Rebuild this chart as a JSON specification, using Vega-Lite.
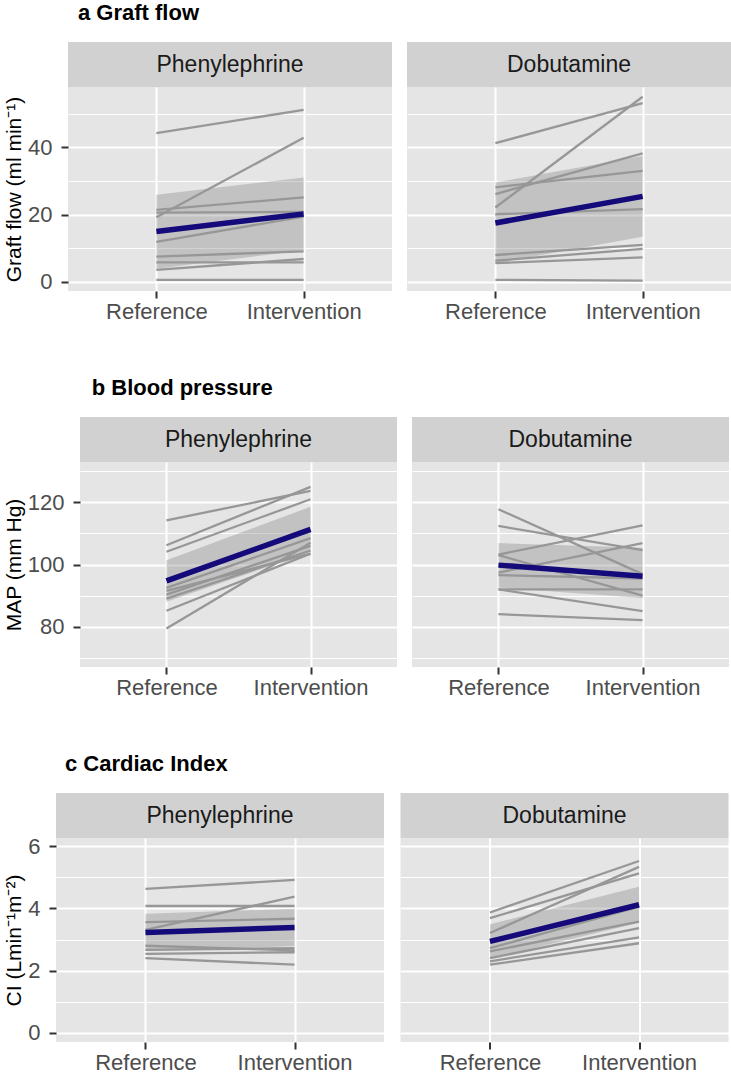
{
  "$schema": "https://vega.github.io/schema/vega-lite/v6.json",
  "background": "#FFFFFF",
  "padding": {"left": 2, "top": 2, "right": 0, "bottom": 0},
  "spacing": 55,
  "datasets": {
    "a_lines": [
      {"drug": "Phenylephrine", "id": 1, "time": "Reference", "value": 44.2}, {"drug": "Phenylephrine", "id": 1, "time": "Intervention", "value": 51.1},
      {"drug": "Phenylephrine", "id": 2, "time": "Reference", "value": 19.2}, {"drug": "Phenylephrine", "id": 2, "time": "Intervention", "value": 42.8},
      {"drug": "Phenylephrine", "id": 3, "time": "Reference", "value": 21.4}, {"drug": "Phenylephrine", "id": 3, "time": "Intervention", "value": 25.1},
      {"drug": "Phenylephrine", "id": 4, "time": "Reference", "value": 20.6}, {"drug": "Phenylephrine", "id": 4, "time": "Intervention", "value": 20.8},
      {"drug": "Phenylephrine", "id": 5, "time": "Reference", "value": 11.9}, {"drug": "Phenylephrine", "id": 5, "time": "Intervention", "value": 19.4},
      {"drug": "Phenylephrine", "id": 6, "time": "Reference", "value": 7.5}, {"drug": "Phenylephrine", "id": 6, "time": "Intervention", "value": 9.1},
      {"drug": "Phenylephrine", "id": 7, "time": "Reference", "value": 5.8}, {"drug": "Phenylephrine", "id": 7, "time": "Intervention", "value": 5.8},
      {"drug": "Phenylephrine", "id": 8, "time": "Reference", "value": 3.6}, {"drug": "Phenylephrine", "id": 8, "time": "Intervention", "value": 6.8},
      {"drug": "Phenylephrine", "id": 9, "time": "Reference", "value": 0.6}, {"drug": "Phenylephrine", "id": 9, "time": "Intervention", "value": 0.6},
      {"drug": "Dobutamine", "id": 1, "time": "Reference", "value": 41.2}, {"drug": "Dobutamine", "id": 1, "time": "Intervention", "value": 53.1},
      {"drug": "Dobutamine", "id": 2, "time": "Reference", "value": 22.1}, {"drug": "Dobutamine", "id": 2, "time": "Intervention", "value": 55.0},
      {"drug": "Dobutamine", "id": 3, "time": "Reference", "value": 26.1}, {"drug": "Dobutamine", "id": 3, "time": "Intervention", "value": 38.2},
      {"drug": "Dobutamine", "id": 4, "time": "Reference", "value": 28.1}, {"drug": "Dobutamine", "id": 4, "time": "Intervention", "value": 33.0},
      {"drug": "Dobutamine", "id": 5, "time": "Reference", "value": 20.1}, {"drug": "Dobutamine", "id": 5, "time": "Intervention", "value": 21.6},
      {"drug": "Dobutamine", "id": 6, "time": "Reference", "value": 8.0}, {"drug": "Dobutamine", "id": 6, "time": "Intervention", "value": 11.0},
      {"drug": "Dobutamine", "id": 7, "time": "Reference", "value": 6.3}, {"drug": "Dobutamine", "id": 7, "time": "Intervention", "value": 9.8},
      {"drug": "Dobutamine", "id": 8, "time": "Reference", "value": 5.6}, {"drug": "Dobutamine", "id": 8, "time": "Intervention", "value": 7.3},
      {"drug": "Dobutamine", "id": 9, "time": "Reference", "value": 0.6}, {"drug": "Dobutamine", "id": 9, "time": "Intervention", "value": 0.4}
    ],
    "a_sum": [
      {"drug": "Phenylephrine", "time": "Reference", "mean": 15.0, "lo": 3.9, "hi": 25.9},
      {"drug": "Phenylephrine", "time": "Intervention", "mean": 20.2, "lo": 9.4, "hi": 31.0},
      {"drug": "Dobutamine", "time": "Reference", "mean": 17.5, "lo": 5.5, "hi": 29.5},
      {"drug": "Dobutamine", "time": "Intervention", "mean": 25.4, "lo": 13.4, "hi": 37.4}
    ],
    "b_lines": [
      {"drug": "Phenylephrine", "id": 1, "time": "Reference", "value": 114.2}, {"drug": "Phenylephrine", "id": 1, "time": "Intervention", "value": 123.7},
      {"drug": "Phenylephrine", "id": 2, "time": "Reference", "value": 106.2}, {"drug": "Phenylephrine", "id": 2, "time": "Intervention", "value": 125.0},
      {"drug": "Phenylephrine", "id": 3, "time": "Reference", "value": 104.1}, {"drug": "Phenylephrine", "id": 3, "time": "Intervention", "value": 121.0},
      {"drug": "Phenylephrine", "id": 4, "time": "Reference", "value": 92.5}, {"drug": "Phenylephrine", "id": 4, "time": "Intervention", "value": 108.5},
      {"drug": "Phenylephrine", "id": 5, "time": "Reference", "value": 91.5}, {"drug": "Phenylephrine", "id": 5, "time": "Intervention", "value": 103.5},
      {"drug": "Phenylephrine", "id": 6, "time": "Reference", "value": 90.3}, {"drug": "Phenylephrine", "id": 6, "time": "Intervention", "value": 106.0},
      {"drug": "Phenylephrine", "id": 7, "time": "Reference", "value": 89.0}, {"drug": "Phenylephrine", "id": 7, "time": "Intervention", "value": 104.5},
      {"drug": "Phenylephrine", "id": 8, "time": "Reference", "value": 85.1}, {"drug": "Phenylephrine", "id": 8, "time": "Intervention", "value": 103.5},
      {"drug": "Phenylephrine", "id": 9, "time": "Reference", "value": 79.4}, {"drug": "Phenylephrine", "id": 9, "time": "Intervention", "value": 107.0},
      {"drug": "Dobutamine", "id": 1, "time": "Reference", "value": 117.8}, {"drug": "Dobutamine", "id": 1, "time": "Intervention", "value": 96.9},
      {"drug": "Dobutamine", "id": 2, "time": "Reference", "value": 112.4}, {"drug": "Dobutamine", "id": 2, "time": "Intervention", "value": 104.6},
      {"drug": "Dobutamine", "id": 3, "time": "Reference", "value": 103.2}, {"drug": "Dobutamine", "id": 3, "time": "Intervention", "value": 112.6},
      {"drug": "Dobutamine", "id": 4, "time": "Reference", "value": 103.0}, {"drug": "Dobutamine", "id": 4, "time": "Intervention", "value": 90.0},
      {"drug": "Dobutamine", "id": 5, "time": "Reference", "value": 97.4}, {"drug": "Dobutamine", "id": 5, "time": "Intervention", "value": 106.9},
      {"drug": "Dobutamine", "id": 6, "time": "Reference", "value": 96.6}, {"drug": "Dobutamine", "id": 6, "time": "Intervention", "value": 95.5},
      {"drug": "Dobutamine", "id": 7, "time": "Reference", "value": 92.0}, {"drug": "Dobutamine", "id": 7, "time": "Intervention", "value": 92.0},
      {"drug": "Dobutamine", "id": 8, "time": "Reference", "value": 92.0}, {"drug": "Dobutamine", "id": 8, "time": "Intervention", "value": 85.0},
      {"drug": "Dobutamine", "id": 9, "time": "Reference", "value": 84.0}, {"drug": "Dobutamine", "id": 9, "time": "Intervention", "value": 82.1}
    ],
    "b_sum": [
      {"drug": "Phenylephrine", "time": "Reference", "mean": 94.7, "lo": 88.0, "hi": 101.4},
      {"drug": "Phenylephrine", "time": "Intervention", "mean": 111.3, "lo": 104.0, "hi": 118.6},
      {"drug": "Dobutamine", "time": "Reference", "mean": 99.8, "lo": 92.6, "hi": 106.9},
      {"drug": "Dobutamine", "time": "Intervention", "mean": 96.2, "lo": 89.2, "hi": 105.4}
    ],
    "c_lines": [
      {"drug": "Phenylephrine", "id": 1, "time": "Reference", "value": 4.63}, {"drug": "Phenylephrine", "id": 1, "time": "Intervention", "value": 4.92},
      {"drug": "Phenylephrine", "id": 2, "time": "Reference", "value": 4.08}, {"drug": "Phenylephrine", "id": 2, "time": "Intervention", "value": 4.08},
      {"drug": "Phenylephrine", "id": 3, "time": "Reference", "value": 3.31}, {"drug": "Phenylephrine", "id": 3, "time": "Intervention", "value": 4.38},
      {"drug": "Phenylephrine", "id": 4, "time": "Reference", "value": 3.56}, {"drug": "Phenylephrine", "id": 4, "time": "Intervention", "value": 3.67},
      {"drug": "Phenylephrine", "id": 5, "time": "Reference", "value": 2.80}, {"drug": "Phenylephrine", "id": 5, "time": "Intervention", "value": 2.65},
      {"drug": "Phenylephrine", "id": 6, "time": "Reference", "value": 2.67}, {"drug": "Phenylephrine", "id": 6, "time": "Intervention", "value": 2.72},
      {"drug": "Phenylephrine", "id": 7, "time": "Reference", "value": 2.54}, {"drug": "Phenylephrine", "id": 7, "time": "Intervention", "value": 2.59},
      {"drug": "Phenylephrine", "id": 8, "time": "Reference", "value": 2.40}, {"drug": "Phenylephrine", "id": 8, "time": "Intervention", "value": 2.19},
      {"drug": "Dobutamine", "id": 1, "time": "Reference", "value": 3.87}, {"drug": "Dobutamine", "id": 1, "time": "Intervention", "value": 5.53},
      {"drug": "Dobutamine", "id": 2, "time": "Reference", "value": 3.69}, {"drug": "Dobutamine", "id": 2, "time": "Intervention", "value": 5.13},
      {"drug": "Dobutamine", "id": 3, "time": "Reference", "value": 3.21}, {"drug": "Dobutamine", "id": 3, "time": "Intervention", "value": 5.34},
      {"drug": "Dobutamine", "id": 4, "time": "Reference", "value": 2.72}, {"drug": "Dobutamine", "id": 4, "time": "Intervention", "value": 4.06},
      {"drug": "Dobutamine", "id": 5, "time": "Reference", "value": 2.62}, {"drug": "Dobutamine", "id": 5, "time": "Intervention", "value": 3.58},
      {"drug": "Dobutamine", "id": 6, "time": "Reference", "value": 2.40}, {"drug": "Dobutamine", "id": 6, "time": "Intervention", "value": 3.37},
      {"drug": "Dobutamine", "id": 7, "time": "Reference", "value": 2.30}, {"drug": "Dobutamine", "id": 7, "time": "Intervention", "value": 3.07},
      {"drug": "Dobutamine", "id": 8, "time": "Reference", "value": 2.19}, {"drug": "Dobutamine", "id": 8, "time": "Intervention", "value": 2.88},
      {"drug": "Dobutamine", "id": 9, "time": "Reference", "value": 2.94}, {"drug": "Dobutamine", "id": 9, "time": "Intervention", "value": 4.12}
    ],
    "c_sum": [
      {"drug": "Phenylephrine", "time": "Reference", "mean": 3.23, "lo": 2.63, "hi": 3.83},
      {"drug": "Phenylephrine", "time": "Intervention", "mean": 3.39, "lo": 2.79, "hi": 3.99},
      {"drug": "Dobutamine", "time": "Reference", "mean": 2.94, "lo": 2.39, "hi": 3.49},
      {"drug": "Dobutamine", "time": "Intervention", "mean": 4.12, "lo": 3.54, "hi": 4.70}
    ]
  },
  "vconcat": [
    {
      "title": {"text": "a Graft flow", "dx": 76, "offset": 0, "baseline": "alphabetic"},
      "spacing": 0,
      "hconcat": [
        {"width": 1, "height": 1, "view": {"fill": "#FFFFFF", "stroke": null}, "data": {"values": []}, "mark": "point"},
        {
          "spacing": 15,
          "hconcat": [
            {
              "spacing": 0, "bounds": "flush",
              "vconcat": [
                {"width": 324, "height": 45, "view": {"fill": "#D1D1D1", "stroke": null},
                 "data": {"values": [{"label": "Phenylephrine"}]},
                 "mark": {"type": "text", "fontSize": 23, "color": "#1A1A1A"},
                 "encoding": {"text": {"field": "label", "type": "nominal"}}},
                {"width": 324, "height": 204, "view": {"fill": "#E5E5E5", "stroke": null},
                 "resolve": {"axis": {"y": "independent"}},
                 "layer": [
                   {"data": {"name": "a_sum"}, "transform": [{"filter": "datum.drug === 'Phenylephrine'"}],
                    "mark": {"type": "area", "color": "#808080", "opacity": 0.35},
                    "encoding": {
                      "x": {"field": "time", "type": "nominal", "scale": {"type": "point", "domain": ["Reference", "Intervention"], "padding": 0.6}, "axis": {"title": null, "labelAngle": 0, "grid": true}},
                      "y": {"field": "lo", "type": "quantitative", "scale": {"domain": [-2.7, 57.9], "nice": false, "zero": false}, "axis": {"orient": "left", "values": [10, 30, 50], "labels": false, "ticks": false, "title": null, "grid": true, "gridWidth": 1}},
                      "y2": {"field": "hi"}}},
                   {"data": {"name": "a_lines"}, "transform": [{"filter": "datum.drug === 'Phenylephrine'"}],
                    "mark": {"type": "line", "color": "#979797", "strokeWidth": 2.3},
                    "encoding": {
                      "x": {"field": "time", "type": "nominal", "scale": {"type": "point", "domain": ["Reference", "Intervention"], "padding": 0.6}, "axis": {"title": null, "labelAngle": 0, "grid": true}},
                      "y": {"field": "value", "type": "quantitative", "scale": {"domain": [-2.7, 57.9], "nice": false, "zero": false}, "axis": {"orient": "left", "values": [0, 20, 40], "title": "Graft flow (ml min⁻¹)", "grid": true}},
                      "detail": {"field": "id", "type": "nominal"}}},
                   {"data": {"name": "a_sum"}, "transform": [{"filter": "datum.drug === 'Phenylephrine'"}],
                    "mark": {"type": "line", "color": "#140A7A", "strokeWidth": 5.5},
                    "encoding": {
                      "x": {"field": "time", "type": "nominal", "scale": {"type": "point", "domain": ["Reference", "Intervention"], "padding": 0.6}, "axis": {"title": null, "labelAngle": 0, "grid": true}},
                      "y": {"field": "mean", "type": "quantitative", "scale": {"domain": [-2.7, 57.9], "nice": false, "zero": false}, "axis": null}}}
                 ]}
              ]
            },
            {
              "spacing": 0, "bounds": "flush",
              "vconcat": [
                {"width": 324, "height": 45, "view": {"fill": "#D1D1D1", "stroke": null},
                 "data": {"values": [{"label": "Dobutamine"}]},
                 "mark": {"type": "text", "fontSize": 23, "color": "#1A1A1A"},
                 "encoding": {"text": {"field": "label", "type": "nominal"}}},
                {"width": 324, "height": 204, "view": {"fill": "#E5E5E5", "stroke": null},
                 "resolve": {"axis": {"y": "independent"}},
                 "layer": [
                   {"data": {"name": "a_sum"}, "transform": [{"filter": "datum.drug === 'Dobutamine'"}],
                    "mark": {"type": "area", "color": "#808080", "opacity": 0.35},
                    "encoding": {
                      "x": {"field": "time", "type": "nominal", "scale": {"type": "point", "domain": ["Reference", "Intervention"], "padding": 0.6}, "axis": {"title": null, "labelAngle": 0, "grid": true}},
                      "y": {"field": "lo", "type": "quantitative", "scale": {"domain": [-2.7, 57.9], "nice": false, "zero": false}, "axis": {"orient": "left", "values": [10, 30, 50], "labels": false, "ticks": false, "title": null, "grid": true, "gridWidth": 1}},
                      "y2": {"field": "hi"}}},
                   {"data": {"name": "a_lines"}, "transform": [{"filter": "datum.drug === 'Dobutamine'"}],
                    "mark": {"type": "line", "color": "#979797", "strokeWidth": 2.3},
                    "encoding": {
                      "x": {"field": "time", "type": "nominal", "scale": {"type": "point", "domain": ["Reference", "Intervention"], "padding": 0.6}, "axis": {"title": null, "labelAngle": 0, "grid": true}},
                      "y": {"field": "value", "type": "quantitative", "scale": {"domain": [-2.7, 57.9], "nice": false, "zero": false}, "axis": {"orient": "left", "values": [0, 20, 40], "labels": false, "ticks": false, "title": null, "grid": true}},
                      "detail": {"field": "id", "type": "nominal"}}},
                   {"data": {"name": "a_sum"}, "transform": [{"filter": "datum.drug === 'Dobutamine'"}],
                    "mark": {"type": "line", "color": "#140A7A", "strokeWidth": 5.5},
                    "encoding": {
                      "x": {"field": "time", "type": "nominal", "scale": {"type": "point", "domain": ["Reference", "Intervention"], "padding": 0.6}, "axis": {"title": null, "labelAngle": 0, "grid": true}},
                      "y": {"field": "mean", "type": "quantitative", "scale": {"domain": [-2.7, 57.9], "nice": false, "zero": false}, "axis": null}}}
                 ]}
              ]
            }
          ]
        }
      ]
    },
    {
      "title": {"text": "b Blood pressure", "dx": 89.7, "offset": 0, "baseline": "alphabetic"},
      "spacing": 0,
      "hconcat": [
        {"width": 1, "height": 1, "view": {"fill": "#FFFFFF", "stroke": null}, "data": {"values": []}, "mark": "point"},
        {
          "spacing": 15,
          "hconcat": [
            {
              "spacing": 0, "bounds": "flush",
              "vconcat": [
                {"width": 317, "height": 45, "view": {"fill": "#D1D1D1", "stroke": null},
                 "data": {"values": [{"label": "Phenylephrine"}]},
                 "mark": {"type": "text", "fontSize": 23, "color": "#1A1A1A"},
                 "encoding": {"text": {"field": "label", "type": "nominal"}}},
                {"width": 317, "height": 205, "view": {"fill": "#E5E5E5", "stroke": null},
                 "resolve": {"axis": {"y": "independent"}},
                 "layer": [
                   {"data": {"name": "b_sum"}, "transform": [{"filter": "datum.drug === 'Phenylephrine'"}],
                    "mark": {"type": "area", "color": "#808080", "opacity": 0.35},
                    "encoding": {
                      "x": {"field": "time", "type": "nominal", "scale": {"type": "point", "domain": ["Reference", "Intervention"], "padding": 0.6}, "axis": {"title": null, "labelAngle": 0, "grid": true}},
                      "y": {"field": "lo", "type": "quantitative", "scale": {"domain": [67, 133], "nice": false, "zero": false}, "axis": {"orient": "left", "values": [70, 90, 110, 130], "labels": false, "ticks": false, "title": null, "grid": true, "gridWidth": 1}},
                      "y2": {"field": "hi"}}},
                   {"data": {"name": "b_lines"}, "transform": [{"filter": "datum.drug === 'Phenylephrine'"}],
                    "mark": {"type": "line", "color": "#979797", "strokeWidth": 2.3},
                    "encoding": {
                      "x": {"field": "time", "type": "nominal", "scale": {"type": "point", "domain": ["Reference", "Intervention"], "padding": 0.6}, "axis": {"title": null, "labelAngle": 0, "grid": true}},
                      "y": {"field": "value", "type": "quantitative", "scale": {"domain": [67, 133], "nice": false, "zero": false}, "axis": {"orient": "left", "values": [80, 100, 120], "title": "MAP (mm Hg)", "grid": true}},
                      "detail": {"field": "id", "type": "nominal"}}},
                   {"data": {"name": "b_sum"}, "transform": [{"filter": "datum.drug === 'Phenylephrine'"}],
                    "mark": {"type": "line", "color": "#140A7A", "strokeWidth": 5.5},
                    "encoding": {
                      "x": {"field": "time", "type": "nominal", "scale": {"type": "point", "domain": ["Reference", "Intervention"], "padding": 0.6}, "axis": {"title": null, "labelAngle": 0, "grid": true}},
                      "y": {"field": "mean", "type": "quantitative", "scale": {"domain": [67, 133], "nice": false, "zero": false}, "axis": null}}}
                 ]}
              ]
            },
            {
              "spacing": 0, "bounds": "flush",
              "vconcat": [
                {"width": 317, "height": 45, "view": {"fill": "#D1D1D1", "stroke": null},
                 "data": {"values": [{"label": "Dobutamine"}]},
                 "mark": {"type": "text", "fontSize": 23, "color": "#1A1A1A"},
                 "encoding": {"text": {"field": "label", "type": "nominal"}}},
                {"width": 317, "height": 205, "view": {"fill": "#E5E5E5", "stroke": null},
                 "resolve": {"axis": {"y": "independent"}},
                 "layer": [
                   {"data": {"name": "b_sum"}, "transform": [{"filter": "datum.drug === 'Dobutamine'"}],
                    "mark": {"type": "area", "color": "#808080", "opacity": 0.35},
                    "encoding": {
                      "x": {"field": "time", "type": "nominal", "scale": {"type": "point", "domain": ["Reference", "Intervention"], "padding": 0.6}, "axis": {"title": null, "labelAngle": 0, "grid": true}},
                      "y": {"field": "lo", "type": "quantitative", "scale": {"domain": [67, 133], "nice": false, "zero": false}, "axis": {"orient": "left", "values": [70, 90, 110, 130], "labels": false, "ticks": false, "title": null, "grid": true, "gridWidth": 1}},
                      "y2": {"field": "hi"}}},
                   {"data": {"name": "b_lines"}, "transform": [{"filter": "datum.drug === 'Dobutamine'"}],
                    "mark": {"type": "line", "color": "#979797", "strokeWidth": 2.3},
                    "encoding": {
                      "x": {"field": "time", "type": "nominal", "scale": {"type": "point", "domain": ["Reference", "Intervention"], "padding": 0.6}, "axis": {"title": null, "labelAngle": 0, "grid": true}},
                      "y": {"field": "value", "type": "quantitative", "scale": {"domain": [67, 133], "nice": false, "zero": false}, "axis": {"orient": "left", "values": [80, 100, 120], "labels": false, "ticks": false, "title": null, "grid": true}},
                      "detail": {"field": "id", "type": "nominal"}}},
                   {"data": {"name": "b_sum"}, "transform": [{"filter": "datum.drug === 'Dobutamine'"}],
                    "mark": {"type": "line", "color": "#140A7A", "strokeWidth": 5.5},
                    "encoding": {
                      "x": {"field": "time", "type": "nominal", "scale": {"type": "point", "domain": ["Reference", "Intervention"], "padding": 0.6}, "axis": {"title": null, "labelAngle": 0, "grid": true}},
                      "y": {"field": "mean", "type": "quantitative", "scale": {"domain": [67, 133], "nice": false, "zero": false}, "axis": null}}}
                 ]}
              ]
            }
          ]
        }
      ]
    },
    {
      "title": {"text": "c Cardiac Index", "dx": 63, "offset": 0, "baseline": "alphabetic"},
      "spacing": 0,
      "hconcat": [
        {"width": 1, "height": 1, "view": {"fill": "#FFFFFF", "stroke": null}, "data": {"values": []}, "mark": "point"},
        {
          "spacing": 16.5,
          "hconcat": [
            {
              "spacing": 0, "bounds": "flush",
              "vconcat": [
                {"width": 328, "height": 45, "view": {"fill": "#D1D1D1", "stroke": null},
                 "data": {"values": [{"label": "Phenylephrine"}]},
                 "mark": {"type": "text", "fontSize": 23, "color": "#1A1A1A"},
                 "encoding": {"text": {"field": "label", "type": "nominal"}}},
                {"width": 328, "height": 204, "view": {"fill": "#E5E5E5", "stroke": null},
                 "resolve": {"axis": {"y": "independent"}},
                 "layer": [
                   {"data": {"name": "c_sum"}, "transform": [{"filter": "datum.drug === 'Phenylephrine'"}],
                    "mark": {"type": "area", "color": "#808080", "opacity": 0.35},
                    "encoding": {
                      "x": {"field": "time", "type": "nominal", "scale": {"type": "point", "domain": ["Reference", "Intervention"], "padding": 0.6}, "axis": {"title": null, "labelAngle": 0, "grid": true}},
                      "y": {"field": "lo", "type": "quantitative", "scale": {"domain": [-0.3, 6.27], "nice": false, "zero": false}, "axis": {"orient": "left", "values": [1, 3, 5], "labels": false, "ticks": false, "title": null, "grid": true, "gridWidth": 1}},
                      "y2": {"field": "hi"}}},
                   {"data": {"name": "c_lines"}, "transform": [{"filter": "datum.drug === 'Phenylephrine'"}],
                    "mark": {"type": "line", "color": "#979797", "strokeWidth": 2.3},
                    "encoding": {
                      "x": {"field": "time", "type": "nominal", "scale": {"type": "point", "domain": ["Reference", "Intervention"], "padding": 0.6}, "axis": {"title": null, "labelAngle": 0, "grid": true}},
                      "y": {"field": "value", "type": "quantitative", "scale": {"domain": [-0.3, 6.27], "nice": false, "zero": false}, "axis": {"orient": "left", "values": [0, 2, 4, 6], "title": "CI (Lmin⁻¹m⁻²)", "grid": true}},
                      "detail": {"field": "id", "type": "nominal"}}},
                   {"data": {"name": "c_sum"}, "transform": [{"filter": "datum.drug === 'Phenylephrine'"}],
                    "mark": {"type": "line", "color": "#140A7A", "strokeWidth": 5.5},
                    "encoding": {
                      "x": {"field": "time", "type": "nominal", "scale": {"type": "point", "domain": ["Reference", "Intervention"], "padding": 0.6}, "axis": {"title": null, "labelAngle": 0, "grid": true}},
                      "y": {"field": "mean", "type": "quantitative", "scale": {"domain": [-0.3, 6.27], "nice": false, "zero": false}, "axis": null}}}
                 ]}
              ]
            },
            {
              "spacing": 0, "bounds": "flush",
              "vconcat": [
                {"width": 328, "height": 45, "view": {"fill": "#D1D1D1", "stroke": null},
                 "data": {"values": [{"label": "Dobutamine"}]},
                 "mark": {"type": "text", "fontSize": 23, "color": "#1A1A1A"},
                 "encoding": {"text": {"field": "label", "type": "nominal"}}},
                {"width": 328, "height": 204, "view": {"fill": "#E5E5E5", "stroke": null},
                 "resolve": {"axis": {"y": "independent"}},
                 "layer": [
                   {"data": {"name": "c_sum"}, "transform": [{"filter": "datum.drug === 'Dobutamine'"}],
                    "mark": {"type": "area", "color": "#808080", "opacity": 0.35},
                    "encoding": {
                      "x": {"field": "time", "type": "nominal", "scale": {"type": "point", "domain": ["Reference", "Intervention"], "padding": 0.6}, "axis": {"title": null, "labelAngle": 0, "grid": true}},
                      "y": {"field": "lo", "type": "quantitative", "scale": {"domain": [-0.3, 6.27], "nice": false, "zero": false}, "axis": {"orient": "left", "values": [1, 3, 5], "labels": false, "ticks": false, "title": null, "grid": true, "gridWidth": 1}},
                      "y2": {"field": "hi"}}},
                   {"data": {"name": "c_lines"}, "transform": [{"filter": "datum.drug === 'Dobutamine'"}],
                    "mark": {"type": "line", "color": "#979797", "strokeWidth": 2.3},
                    "encoding": {
                      "x": {"field": "time", "type": "nominal", "scale": {"type": "point", "domain": ["Reference", "Intervention"], "padding": 0.6}, "axis": {"title": null, "labelAngle": 0, "grid": true}},
                      "y": {"field": "value", "type": "quantitative", "scale": {"domain": [-0.3, 6.27], "nice": false, "zero": false}, "axis": {"orient": "left", "values": [0, 2, 4, 6], "labels": false, "ticks": false, "title": null, "grid": true}},
                      "detail": {"field": "id", "type": "nominal"}}},
                   {"data": {"name": "c_sum"}, "transform": [{"filter": "datum.drug === 'Dobutamine'"}],
                    "mark": {"type": "line", "color": "#140A7A", "strokeWidth": 5.5},
                    "encoding": {
                      "x": {"field": "time", "type": "nominal", "scale": {"type": "point", "domain": ["Reference", "Intervention"], "padding": 0.6}, "axis": {"title": null, "labelAngle": 0, "grid": true}},
                      "y": {"field": "mean", "type": "quantitative", "scale": {"domain": [-0.3, 6.27], "nice": false, "zero": false}, "axis": null}}}
                 ]}
              ]
            }
          ]
        }
      ]
    }
  ],
  "config": {
    "font": "Liberation Sans",
    "view": {"stroke": null},
    "axis": {
      "domain": false,
      "gridColor": "#FFFFFF", "gridWidth": 2, "gridOpacity": 1,
      "tickColor": "#333333", "tickSize": 7, "tickWidth": 2,
      "labelFont": "Liberation Sans", "labelFontSize": 22, "labelColor": "#4D4D4D",
      "titleFont": "Liberation Sans", "titleFontSize": 21, "titleFontWeight": "normal", "titleColor": "#000000",
      "labelOverlap": false
    },
    "axisX": {"labelPadding": 3},
    "axisY": {"labelPadding": 9, "titlePadding": 3},
    "title": {"font": "Liberation Sans", "fontSize": 22, "fontWeight": "bold", "color": "#000000", "anchor": "start"}
  }
}
